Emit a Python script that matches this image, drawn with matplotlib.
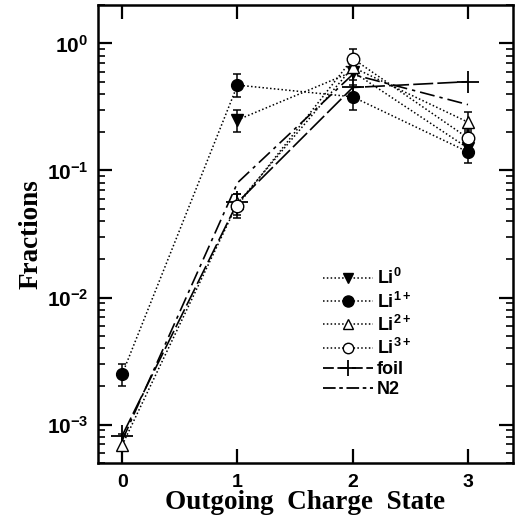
import numpy as np
import matplotlib
matplotlib.use("Agg")
import matplotlib.pyplot as plt
from matplotlib.lines import Line2D
from matplotlib.ticker import LogLocator, FixedLocator, FuncFormatter, NullFormatter

plt.rcParams['mathtext.fontset'] = 'custom'
plt.rcParams['mathtext.bf'] = 'Liberation Sans:bold'
plt.rcParams['mathtext.rm'] = 'Liberation Sans'
plt.rcParams['font.family'] = ['Liberation Sans', 'DejaVu Sans']

charge_states = [0, 1, 2, 3]

li0 = [np.nan, 0.25, 0.60, 0.15]
li0_lo = [np.nan, 0.20, 0.52, 0.13]
li0_hi = [np.nan, 0.30, 0.68, 0.17]

li1 = [2.5e-3, 0.47, 0.38, 0.14]
li1_lo = [2.0e-3, 0.38, 0.30, 0.115]
li1_hi = [3.0e-3, 0.57, 0.47, 0.17]

li2 = [6.9e-4, 0.055, 0.65, 0.24]
li2_lo = [4.5e-4, 0.045, 0.58, 0.20]
li2_hi = [8.5e-4, 0.065, 0.75, 0.29]

li3 = [np.nan, 0.053, 0.76, 0.18]
li3_lo = [np.nan, 0.042, 0.65, 0.15]
li3_hi = [np.nan, 0.065, 0.90, 0.21]

foil = [8.2e-4, 0.056, 0.45, 0.50]
n2 = [7.5e-4, 0.080, 0.57, 0.33]

labels = [r'$\mathbf{Li^{0}}$', r'$\mathbf{Li^{1+}}$', r'$\mathbf{Li^{2+}}$',
          r'$\mathbf{Li^{3+}}$', 'foil', 'N2']
y_ticks = [1e-3, 1e-2, 1e-1, 1e0]
x_ticks = [0, 1, 2, 3]

fig = plt.figure(figsize=(5.16, 5.20), dpi=100)
ax = fig.add_axes([0.190, 0.110, 0.804, 0.880])

x = np.array(charge_states)

def err(v, lo, hi):
    v = np.array(v); lo = np.array(lo); hi = np.array(hi)
    return np.vstack([v - lo, hi - v])

dot = (0, (1, 1.5))
common = dict(color='black', linewidth=1.1, capsize=3, elinewidth=1.1, capthick=1.1)

ax.errorbar(x, li0, yerr=err(li0, li0_lo, li0_hi), fmt='v', linestyle=dot,
            markersize=8, markerfacecolor='black', markeredgecolor='black', **common)
ax.errorbar(x, li1, yerr=err(li1, li1_lo, li1_hi), fmt='o', linestyle=dot,
            markersize=8.5, markerfacecolor='black', markeredgecolor='black', **common)
ax.errorbar(x, li2, yerr=err(li2, li2_lo, li2_hi), fmt='^', linestyle=dot,
            markersize=8, markerfacecolor='white', markeredgecolor='black', **common)
ax.errorbar(x, li3, yerr=err(li3, li3_lo, li3_hi), fmt='o', linestyle=dot,
            markersize=9, markerfacecolor='white', markeredgecolor='black', **common)
ax.plot(x, foil, color='black', linewidth=1.2, linestyle=(0, (12, 2.5)),
        marker='+', markersize=16, markeredgewidth=1.3)
ax.plot(x, n2, color='black', linewidth=1.2, linestyle=(0, (9, 3, 2, 3)))

# legend proxies (no error bars in the legend)
handles = [
    Line2D([], [], color='black', linestyle=dot, linewidth=1.1, marker='v', markersize=7,
           markerfacecolor='black'),
    Line2D([], [], color='black', linestyle=dot, linewidth=1.1, marker='o', markersize=8,
           markerfacecolor='black'),
    Line2D([], [], color='black', linestyle=dot, linewidth=1.1, marker='^', markersize=6.5,
           markerfacecolor='white'),
    Line2D([], [], color='black', linestyle=dot, linewidth=1.1, marker='o', markersize=7.5,
           markerfacecolor='white'),
    Line2D([], [], color='black', linestyle=(0, (6, 2)), linewidth=1.3, marker='+',
           markersize=11, markeredgewidth=1.3),
    Line2D([], [], color='black', linestyle=(0, (7, 2, 2, 2)), linewidth=1.3),
]

ax.set_yscale('log')
ax.set_ylim(5e-4, 2.0)
ax.set_xlim(-0.21, 3.39)

ax.yaxis.set_major_locator(FixedLocator(y_ticks))
ax.yaxis.set_major_formatter(FuncFormatter(
    lambda v, p: r'$\mathbf{10^{%d}}$' % int(round(np.log10(v)))))
ax.yaxis.set_minor_locator(LogLocator(base=10, subs=np.arange(2, 10), numticks=20))
ax.yaxis.set_minor_formatter(NullFormatter())
ax.xaxis.set_major_locator(FixedLocator(x_ticks))

ax.tick_params(axis='both', which='major', direction='in', length=10, width=1.6,
               top=True, right=True, pad=7)
ax.tick_params(axis='y', which='major', labelsize=15)
ax.tick_params(axis='x', which='major', labelsize=14, pad=8)
ax.tick_params(axis='both', which='minor', direction='in', length=5, width=1.2,
               top=True, right=True)
for lab in ax.get_xticklabels():
    lab.set_fontweight('bold')
for s in ax.spines.values():
    s.set_linewidth(1.8)

ax.set_ylabel('Fractions', fontsize=19.5, fontweight='bold', family='Liberation Serif', labelpad=2)
ax.set_xlabel('Outgoing  Charge  State', fontsize=19.5, fontweight='bold',
              family='Liberation Serif', labelpad=-1)

leg = ax.legend(handles, labels, loc='upper left',
                bbox_to_anchor=(0.542, 0.425), frameon=False, handlelength=2.8,
                handletextpad=0.2, labelspacing=0.17, borderaxespad=0, borderpad=0,
                prop={'weight': 'bold', 'size': 13})

fig.savefig('out.png', dpi=100)
